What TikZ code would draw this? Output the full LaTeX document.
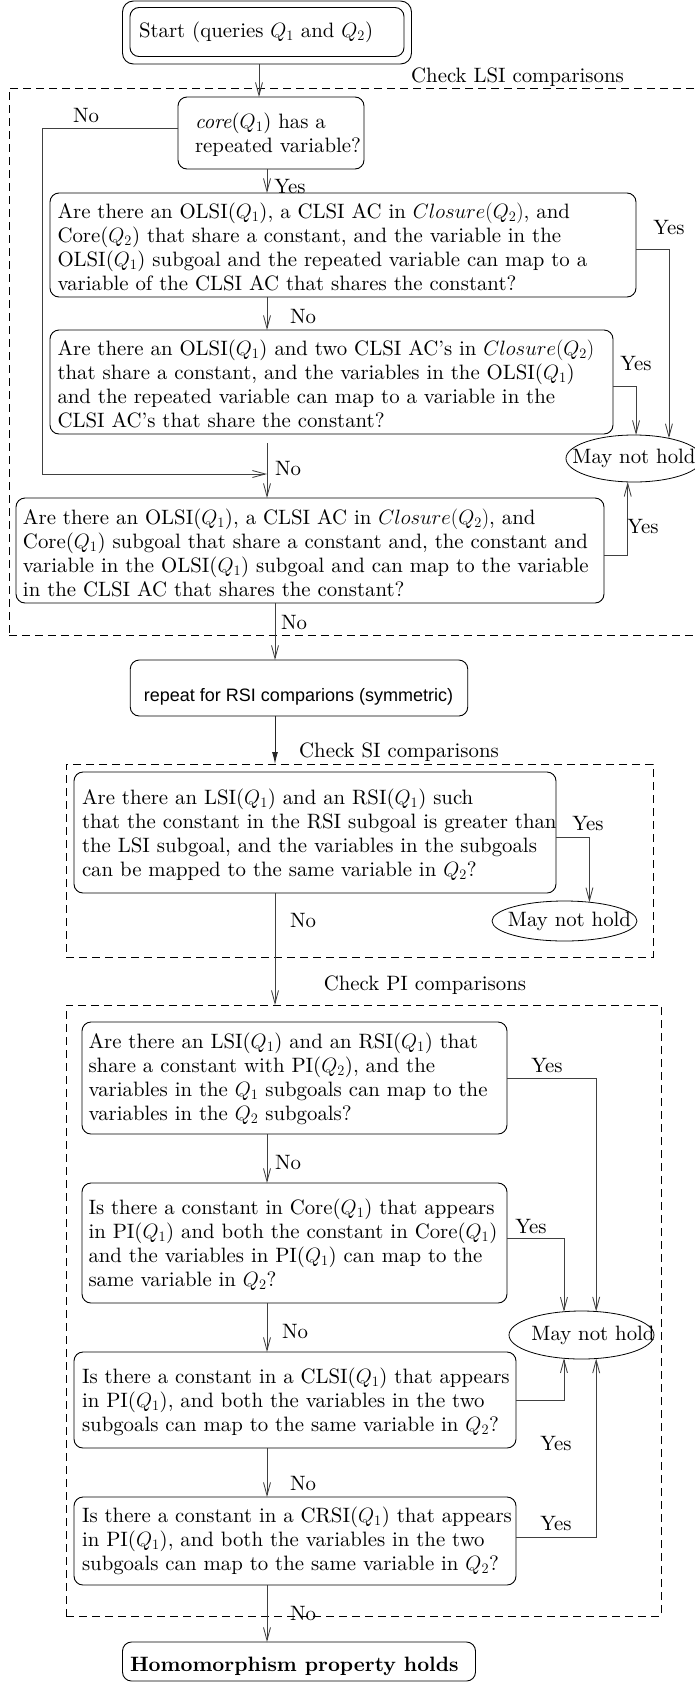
\documentclass[tikz,border=0pt]{standalone}
\usepackage{fontspec}
\setmainfont{lmroman10-regular}[Extension=.otf, BoldFont=lmroman10-bold, ItalicFont=lmroman10-italic]
\newfontfamily\helv{Liberation Sans}
\usetikzlibrary{arrows.meta,shapes.geometric,calc}
\begin{document}
\begin{tikzpicture}[x=1pt,y=-1pt,
  every node/.style={inner sep=0pt, outer sep=0pt},
  box/.style={draw, rounded corners=9pt, line width=0.9pt},
  txt/.style={anchor=west, align=left, font=\fontsize{20.8}{24}\selectfont},
  lbl/.style={font=\fontsize{20.8}{24}\selectfont},
  arr/.style={line width=0.85pt, draw=black!75, -{Straight Barb[length=13pt,width=7pt]}},
  farr/.style={line width=0.85pt, draw=black!85, -{Latex[length=12pt,width=6pt]}},
  region/.style={draw, dash pattern=on 8pt off 5pt, line width=0.7pt},
  mnh/.style={draw, ellipse, line width=0.8pt, font=\fontsize{20.8}{24}\selectfont}
]
\useasboundingbox (0,0) rectangle (694,1684);

% dashed regions
\node[region, minimum width=693pt, minimum height=547pt] (lsi) at (355.5,361.5) {};
\node[region, minimum width=587pt, minimum height=193pt] (si) at (359.5,860.5) {};
\node[region, minimum width=595pt, minimum height=611pt] (pi) at (363.5,1310.5) {};

\node[lbl] (lsil) at (517.5,77) {Check LSI comparisons};
\node[lbl] (sil) at (399,752) {Check SI comparisons};
\node[lbl] (pil) at (425,985) {Check PI comparisons};

% helper x positions
\coordinate (xs) at (259,0);
\coordinate (xm) at (267,0);
\coordinate (xb) at (275,0);
\coordinate (nl) at (42,0);
\coordinate (j1) at (267,474);

% start
\node[box, rounded corners=11pt, minimum width=289pt, minimum height=63pt] (startout) at (267,32.5) {};
\node[box, minimum width=274pt, minimum height=49pt] (start) at (267,32) {};
\node[txt] (startt) at ($(start.west)+(9,0)$) {Start (queries $Q_1$ and $Q_2$)};

% core
\node[box, minimum width=186pt, minimum height=72pt] (core) at (271,133) {};
\node[txt] (coret) at ($(core.west)+(17,2)$) {\textit{core}($Q_1$) has a\\repeated variable?};

% A
\node[box, minimum width=586pt, minimum height=104pt] (A) at (343,245) {};
\node[txt] (At) at ($(A.west)+(7.5,2)$) {Are there an OLSI($Q_1$), a CLSI AC in $Closure(Q_2)$, and\\Core($Q_2$) that share a constant, and the variable in the\\OLSI($Q_1$) subgoal and the repeated variable can map to a\\variable of the CLSI AC that shares the constant?};

% B
\node[box, minimum width=563pt, minimum height=104pt] (B) at (331.5,382) {};
\node[txt] (Bt) at ($(B.west)+(7.5,2)$) {Are there an OLSI($Q_1$) and two CLSI AC's in $Closure(Q_2)$\\that share a constant, and the variables in the OLSI($Q_1$)\\and the repeated variable can map to a variable in the\\CLSI AC's that share the constant?};

% C
\node[box, minimum width=588pt, minimum height=105pt] (C) at (310,550.5) {};
\node[txt] (Ct) at ($(C.west)+(7,2)$) {Are there an OLSI($Q_1$), a CLSI AC in $Closure(Q_2)$, and\\Core($Q_1$) subgoal that share a constant and, the constant and\\variable in the OLSI($Q_1$) subgoal and can map to the variable\\in the CLSI AC that shares the constant?};

% may not hold (LSI)
\node[mnh, minimum width=136pt, minimum height=47pt] (m1) at (634,458.5) {\makebox[0pt]{May not hold}};

% D
\node[box, minimum width=337.5pt, minimum height=56pt] (D) at (299,688) {};
\node[font=\helv\fontsize{18}{21}\selectfont] (Dt) at (298.5,697) {repeat for RSI comparions (symmetric)};

% E
\node[box, minimum width=482pt, minimum height=121pt] (E) at (315,832.5) {};
\node[txt] (Et) at ($(E.west)+(8,2)$) {Are there an LSI($Q_1$) and an RSI($Q_1$) such\\that the constant in the RSI subgoal is greater than\\the LSI subgoal, and the variables in the subgoals\\can be mapped to the same variable in $Q_2$?};
\node[mnh, minimum width=145pt, minimum height=40pt] (m2) at (564.5,921) {\makebox[0pt]{\hspace*{10pt}May not hold}};

% F
\node[box, minimum width=425pt, minimum height=112pt] (F) at (294.5,1078) {};
\node[txt] (Ft) at ($(F.west)+(6.5,1)$) {Are there an LSI($Q_1$) and an RSI($Q_1$) that\\share a constant with PI($Q_2$), and the\\variables in the $Q_1$ subgoals can map to the\\variables in the $Q_2$ subgoals?};

% G
\node[box, minimum width=425pt, minimum height=120pt] (G) at (294.5,1243) {};
\node[txt] (Gt) at ($(G.west)+(6.5,2)$) {Is there a constant in Core($Q_1$) that appears\\in PI($Q_1$) and both the constant in Core($Q_1$)\\and the variables in PI($Q_1$) can map to the\\same variable in $Q_2$?};

\node[mnh, minimum width=145pt, minimum height=48pt] (m3) at (581.5,1335) {\makebox[0pt]{\hspace*{23pt}May not hold}};

% H
\node[box, minimum width=442pt, minimum height=96pt] (H) at (295,1400) {};
\node[txt] (Ht) at ($(H.west)+(8,2)$) {Is there a constant in a CLSI($Q_1$) that appears\\in PI($Q_1$), and both the variables in the two\\subgoals can map to the same variable in $Q_2$?};

% I
\node[box, minimum width=442pt, minimum height=88pt] (I) at (295,1541) {};
\node[txt] (It) at ($(I.west)+(8,0)$) {Is there a constant in a CRSI($Q_1$) that appears\\in PI($Q_1$), and both the variables in the two\\subgoals can map to the same variable in $Q_2$?};

% J
\node[box, minimum width=353pt, minimum height=39pt] (J) at (299,1661.5) {};
\node[txt, font=\bfseries\fontsize{20.8}{24}\selectfont] (Jt) at ($(J.west)+(7.5,5)$) {Homomorphism property holds};

% connectors
\draw[arr] (startout.south -| xs) -- (core.north -| xs);
\draw[arr] (core.south -| xm) -- (A.north -| xm);
\draw[arr] ($(core.west)+(0,-5)$) -| (nl |- j1) -- (j1);
\draw[arr] (A.south -| xm) -- (B.north -| xm);
\draw[arr] ($(B.south -| xm)+(0,9)$) -- (C.north -| xm);
\draw[arr] ($(A.east)+(0,4)$) -| (m1.30);
\draw[arr] ($(B.east)+(0,4)$) -| (m1.85);
\draw[arr] ($(C.east)+(0,4.5)$) -| (m1.255);
\draw[arr] (C.south -| xb) -- (D.north -| xb);
\draw[farr] (D.south -| xb) -- (si.north -| xb);
\draw[arr] ($(E.east)+(0,4.5)$) -| (m2.37);
\draw[arr] (E.south -| xb) -- (pi.north -| xb);
\draw[arr] (F.south -| xm) -- (G.north -| xm);
\draw[arr] (G.south -| xm) -- (H.north -| xm);
\draw[arr] (H.south -| xm) -- (I.north -| xm);
\draw[arr] (I.south -| xm) -- (J.north -| xm);
\draw[arr] (F.east) -| (m3.58);
\draw[arr] ($(G.east)+(0,-5)$) -| (m3.127);
\draw[arr] (H.east) -| (m3.233);
\draw[arr] ($(I.east)+(0,-4)$) -| (m3.302);

% labels
\node[lbl] (l1) at (86,116) {No};
\node[lbl] (l2) at (290,187) {Yes};
\node[lbl] (l3) at (303,317) {No};
\node[lbl] (l4) at (288,469) {No};
\node[lbl] (l5) at (669,228) {Yes};
\node[lbl] (l6) at (636,364) {Yes};
\node[lbl] (l7) at (643,527) {Yes};
\node[lbl] (l8) at (294,623) {No};
\node[lbl] (l9) at (588,823) {Yes};
\node[lbl] (l10) at (303,920) {No};
\node[lbl] (l11) at (547,1065) {Yes};
\node[lbl] (l12) at (288,1162) {No};
\node[lbl] (l13) at (531,1226) {Yes};
\node[lbl] (l14) at (295,1331) {No};
\node[lbl] (l15) at (556,1443) {Yes};
\node[lbl] (l16) at (303,1483) {No};
\node[lbl] (l17) at (556,1523) {Yes};
\node[lbl] (l18) at (303,1613) {No};
\end{tikzpicture}
\end{document}
